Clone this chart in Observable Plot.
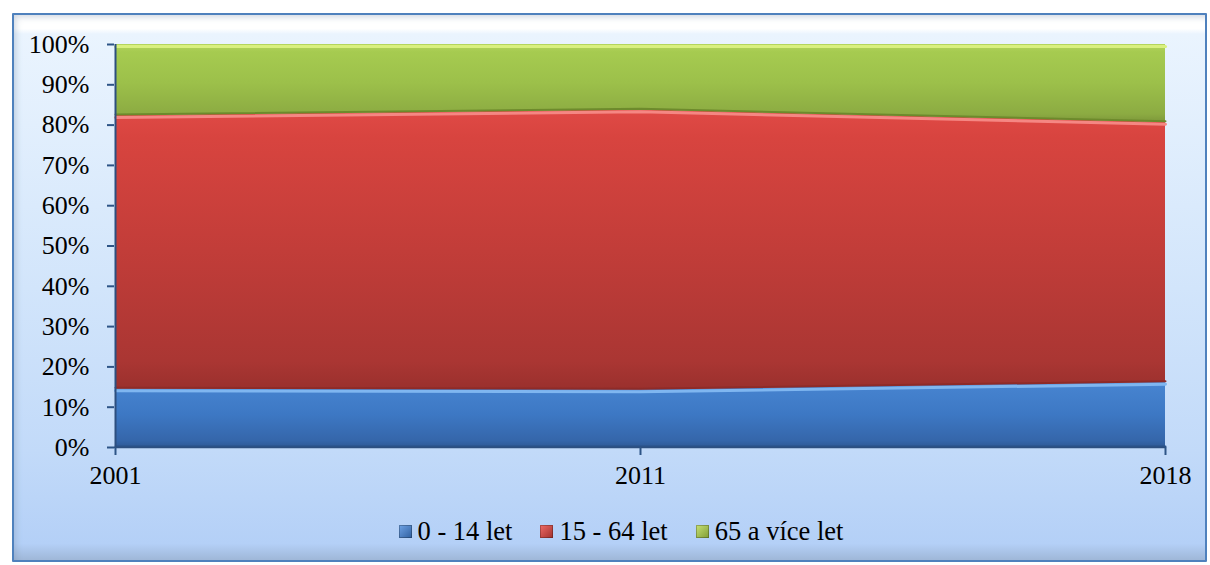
<!DOCTYPE html>
<html>
<head>
<meta charset="utf-8">
<script src="https://cdn.jsdelivr.net/npm/d3@7"></script>
<script src="https://cdn.jsdelivr.net/npm/@observablehq/plot@0.6"></script>
<style>
  html, body { margin: 0; padding: 0; width: 1210px; height: 565px; background: #ffffff; overflow: hidden; }
  #frame {
    position: absolute; left: 12px; top: 13px; width: 1191px; height: 545px;
    border: 2px solid #4f81bd; border-radius: 1px;
    background: linear-gradient(to bottom, #ffffff 0%, #ffffff 2.5%, #eaf4fe 3.5%, #e2effd 20%, #d2e5fb 50%, #c2daf9 80%, #b4d0f7 97%, #9fb7d8 100%);
    box-shadow: inset 6px 6px 6px -4px rgba(120,140,170,0.35);
  }
  #chart { position: absolute; left: 0; top: 0; }
  #legend {
    position: absolute; top: 516px; left: 0; width: 1242px; display: flex; justify-content: center;
    font-family: "Liberation Serif", "Times New Roman", serif; font-size: 26.5px; color: #000;
  }
  .item { display: flex; align-items: center; margin: 0 14px; }
  .sw { width: 13px; height: 13px; margin-right: 6px; box-shadow: inset 0 0 0 1px rgba(0,0,0,0.25); }
</style>
</head>
<body>
<div id="frame"></div>
<div id="chart"></div>
<div id="legend"></div>
<script>
const years = ["2001", "2011", "2018"];
const groups = ["0 - 14 let", "15 - 64 let", "65 a více let"];
const age0_14 = [14.6, 14.3, 16.2];
const age15_64 = [67.8, 69.5, 64.5];
const age65plus = [17.6, 16.2, 19.3];
const yTicks = [0, 10, 20, 30, 40, 50, 60, 70, 80, 90, 100];

const seriesValues = [age0_14, age15_64, age65plus];
const gradIds = ["gBlue", "gRed", "gGreen"];
const topHighlight = ["#7fb6f0", "#f58783", "#d9f07f"];
const bottomDark = ["#2b5288", "#8e2b28", "#6d8a2c"];
const legendFill = [
  "linear-gradient(135deg, #6fa3e6, #2f5f9f)",
  "linear-gradient(135deg, #f06b67, #a0302d)",
  "linear-gradient(135deg, #c8e276, #7f9c34)"
];

// stacked rows built from the arrays
const stacked = groups.map((g, gi) => years.map((yr, i) => {
  let lo = 0;
  for (let k = 0; k < gi; k++) lo += seriesValues[k][i];
  return { year: yr, group: g, lo: lo, hi: lo + seriesValues[gi][i] };
}));

const marks = [];
stacked.forEach((rows, gi) => {
  marks.push(Plot.areaY(rows, { x: "year", y1: "lo", y2: "hi", fill: `url(#${gradIds[gi]})` }));
});
stacked.forEach((rows, gi) => {
  marks.push(Plot.lineY(rows, { x: "year", y: "lo", stroke: bottomDark[gi], strokeWidth: 2, dy: -1 }));
  marks.push(Plot.lineY(rows, { x: "year", y: "hi", stroke: topHighlight[gi], strokeWidth: 3, dy: 2 }));
});
marks.push(Plot.ruleY([0], { stroke: "#2d4f7f", strokeWidth: 1.5 }));
marks.push(Plot.ruleX([years[0]], { y1: 0, y2: 100, stroke: "#2d4f7f", strokeWidth: 2 }));
marks.push(Plot.axisY({ ticks: yTicks, tickSize: 7, tickPadding: 18, tickFormat: d => d + "%", stroke: "#2d5486", strokeWidth: 2, label: null, fontSize: 26, fill: "#000" }));
marks.push(Plot.axisX({ tickSize: 8, tickPadding: 10, stroke: "#2d5486", strokeWidth: 2, label: null, fontSize: 26, fill: "#000" }));

const chart = Plot.plot({
  width: 1210,
  height: 500,
  marginLeft: 114,
  marginRight: 45,
  marginTop: 44,
  marginBottom: 53,
  style: { background: "transparent", fontFamily: "'Liberation Serif', 'Times New Roman', serif", fontSize: "26px", color: "#000", overflow: "visible" },
  x: { type: "point", domain: years, padding: 0, label: null },
  y: { domain: [0, 100], label: null },
  marks
});

// gradient definitions for the 3D look
const ns = "http://www.w3.org/2000/svg";
const defs = document.createElementNS(ns, "defs");
const gradStops = {
  gBlue: [[0, "#5b98e0"], [0.08, "#4683cf"], [0.5, "#3d78c4"], [0.9, "#3566aa"], [1, "#2f5a96"]],
  gRed: [[0, "#e04a46"], [0.1, "#d8443f"], [0.5, "#c23d39"], [0.9, "#aa3633"], [1, "#9a302d"]],
  gGreen: [[0, "#b5d65e"], [0.1, "#a6cb50"], [0.5, "#9cc04a"], [0.9, "#8cab42"], [1, "#7d983a"]]
};
for (const id of gradIds) {
  const lg = document.createElementNS(ns, "linearGradient");
  lg.setAttribute("id", id);
  lg.setAttribute("x1", "0"); lg.setAttribute("y1", "0");
  lg.setAttribute("x2", "0"); lg.setAttribute("y2", "1");
  for (const [o, c] of gradStops[id]) {
    const s = document.createElementNS(ns, "stop");
    s.setAttribute("offset", o);
    s.setAttribute("stop-color", c);
    lg.appendChild(s);
  }
  defs.appendChild(lg);
}
chart.insertBefore(defs, chart.firstChild);
document.getElementById("chart").appendChild(chart);

const legend = document.getElementById("legend");
groups.forEach((g, i) => {
  const item = document.createElement("div");
  item.className = "item";
  const sw = document.createElement("span");
  sw.className = "sw";
  sw.style.background = legendFill[i];
  const t = document.createElement("span");
  t.textContent = g;
  item.appendChild(sw);
  item.appendChild(t);
  legend.appendChild(item);
});
</script>
</body>
</html>
